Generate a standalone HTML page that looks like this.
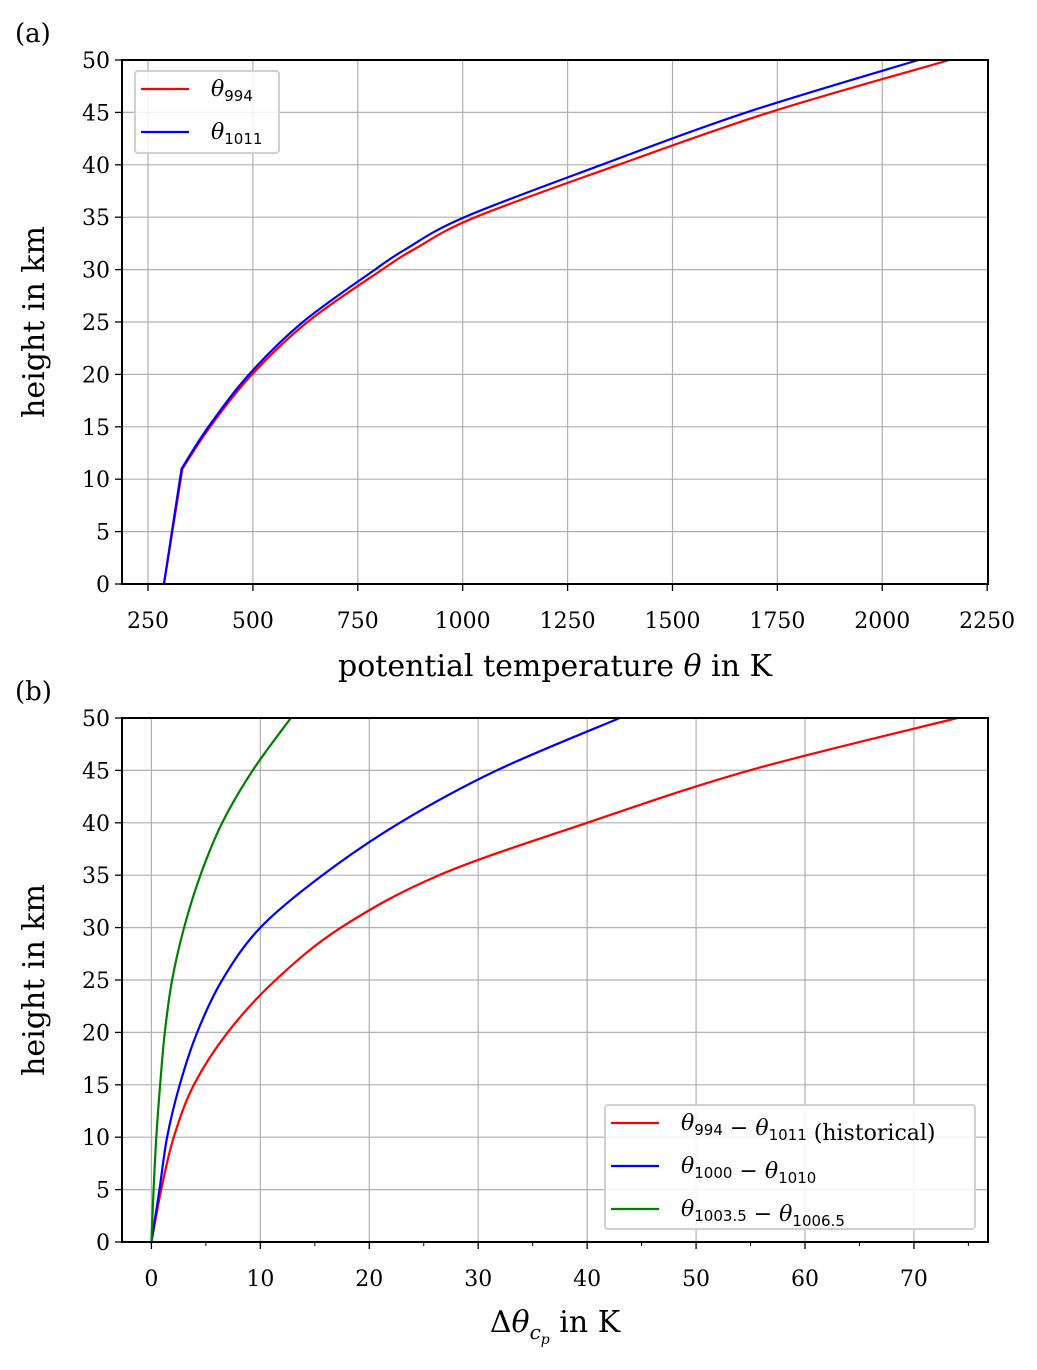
<!DOCTYPE html>
<html><head><meta charset="utf-8">
<style>
body{margin:0;background:#fff;}
svg text{font-family:"DejaVu Serif","Liberation Serif",serif;fill:#000;}
</style></head>
<body>
<svg id="fig" width="1037" height="1365" viewBox="0 0 1037 1365" xmlns="http://www.w3.org/2000/svg"></svg>
<script>
// ---- Panel (a) data ----
const heightsA = [0,5,11,15,20,25,30,32,35,40,45,50];
const theta994 = [288,308,332,398,498,630,808,887,1030,1371,1731,2160];
const theta1011 = [288,307,330,394,491,619,791,866,1004,1331,1676,2086];
const xTicksA = [250,500,750,1000,1250,1500,1750,2000,2250];
const yTicks = [0,5,10,15,20,25,30,35,40,45,50];
// ---- Panel (b) data ----
const heightsB = [0,5,10,15,20,25,30,35,40,45,50];
const diffRed = [0,0.9,2.05,3.9,7.0,11.4,17.4,26.4,40,54.9,74];
const diffBlue = [0,0.74,1.44,2.6,4.2,6.5,10,15.7,22.8,31.7,43];
const diffGreen = [0,0.2,0.45,0.8,1.23,1.9,3.0,4.5,6.5,9.3,12.8];
const xTicksB = [0,10,20,30,40,50,60,70];
const xMinorB = [5,15,25,35,45,55,65,75];

const svg = document.getElementById('fig');
const NS = 'http://www.w3.org/2000/svg';
function mk(tag, attrs, parent){const e=document.createElementNS(NS,tag);for(const k in attrs)e.setAttribute(k,attrs[k]);(parent||svg).appendChild(e);return e;}

function smoothPath(pts){
  let d='M'+pts[0][0].toFixed(2)+','+pts[0][1].toFixed(2);
  for(let i=0;i<pts.length-1;i++){
    const p0=pts[Math.max(i-1,0)],p1=pts[i],p2=pts[i+1],p3=pts[Math.min(i+2,pts.length-1)];
    const c1=[p1[0]+(p2[0]-p0[0])/6,p1[1]+(p2[1]-p0[1])/6];
    const c2=[p2[0]-(p3[0]-p1[0])/6,p2[1]-(p3[1]-p1[1])/6];
    d+=` C${c1[0].toFixed(2)},${c1[1].toFixed(2)} ${c2[0].toFixed(2)},${c2[1].toFixed(2)} ${p2[0].toFixed(2)},${p2[1].toFixed(2)}`;
  }
  return d;
}

function panel(cfg){
  const g = mk('g',{});
  
  
  const L=122,R=988,T=cfg.top,B=cfg.bottom;
  const sx=v=>L+(v-cfg.xmin)/(cfg.xmax-cfg.xmin)*(R-L);
  const sy=v=>B-(v-0)/50*(B-T);
  cfg.xticks.forEach(t=>{
    const x=sx(t);
    if(x>L+1&&x<R-1){const l=mk('line',{x1:x,x2:x,y1:T,y2:B,stroke:'#b0b0b0','stroke-width':1.2},g);
    }
    mk('line',{x1:x,x2:x,y1:B,y2:B+7,stroke:'#000','stroke-width':1.3},g);
    const tx=mk('text',{x:x,y:B+44,'text-anchor':'middle','font-size':22},g);tx.textContent=t;
    
  });
  (cfg.minor||[]).forEach(t=>{const x=sx(t);if(x<R)mk('line',{x1:x,x2:x,y1:B,y2:B+4,stroke:'#000','stroke-width':1},g);});
  yTicks.forEach(t=>{
    const y=sy(t);
    if(y>T+1&&y<B-1){const l=mk('line',{x1:L,x2:R,y1:y,y2:y,stroke:'#b0b0b0','stroke-width':1.2},g);
    }
    mk('line',{x1:L-7,x2:L,y1:y,y2:y,stroke:'#000','stroke-width':1.3},g);
    const tx=mk('text',{x:L-12,y:y+8,'text-anchor':'end','font-size':22},g);tx.textContent=t;
    
  });
  cfg.series.forEach(s=>{
    const pts=s.x.map((v,i)=>[sx(v),sy(s.y[i])]);
    const k=s.y.indexOf(cfg.kink);
    let d;
    if(k>0){d=smoothPath(pts.slice(0,k+1))+' '+smoothPath(pts.slice(k)).replace(/^M[^ C]+/,'');}
    else d=smoothPath(pts);
    const p=mk('path',{d:d,fill:'none',stroke:s.color,'stroke-width':2.2,'stroke-linejoin':'round'},g);
    
  });
  const fr=mk('rect',{x:L,y:T,width:R-L,height:B-T,fill:'none',stroke:'#000','stroke-width':2},g);
  
  const yl=mk('text',{x:0,y:0,'text-anchor':'middle','font-size':30,transform:`translate(44,${(T+B)/2}) rotate(-90)`},g);
  yl.textContent='height in km';
  const pl=mk('text',{x:15,y:T-18,'font-size':26},g);pl.textContent=cfg.label;
  
  return {g,sx,sy,B};
}

panel({name:'panel-a',top:60,bottom:584,xmin:188,xmax:2252,xticks:xTicksA,label:'(a)',kink:11,
  series:[{name:'theta-994-line',color:'#ff0000',x:theta994,y:heightsA},{name:'theta-1011-line',color:'#0000ff',x:theta1011,y:heightsA}]});
panel({name:'panel-b',top:718,bottom:1242,xmin:-2.7,xmax:76.8,xticks:xTicksB,minor:xMinorB,label:'(b)',kink:-1,
  series:[{name:'red-diff-line',color:'#ff0000',x:diffRed,y:heightsB},{name:'blue-diff-line',color:'#0000ff',x:diffBlue,y:heightsB},{name:'green-diff-line',color:'#008000',x:diffGreen,y:heightsB}]});

let t=mk('text',{x:555,y:676,'text-anchor':'middle','font-size':30});
t.innerHTML='potential temperature <tspan font-style="italic">θ</tspan> in K';

t=mk('text',{x:555,y:1332,'text-anchor':'middle','font-size':30});
t.innerHTML='Δ<tspan font-style="italic">θ</tspan><tspan font-style="italic" font-size="20" dy="7">c</tspan><tspan font-style="italic" font-size="14" dy="5">p</tspan><tspan dy="-12"> in K</tspan>';


function legend(name,x,y,w,h,items){
  const g=mk('g',{});
  
  mk('rect',{x,y,width:w,height:h,fill:'#fff','fill-opacity':0.85,stroke:'#d0d0d0','stroke-width':2,rx:3},g);
  items.forEach((it,i)=>{
    const yy=y+18+i*43;
    mk('line',{x1:x+6,x2:x+54,y1:yy,y2:yy,stroke:it.c,'stroke-width':2.2},g);
    const tx=mk('text',{x:x+76,y:yy+7,'font-size':22},g);tx.innerHTML=it.h;
    
  });
}
const sub=s=>`<tspan font-size="15" dy="5" font-family="DejaVu Sans, sans-serif">${s}</tspan><tspan dy="-5"></tspan>`;
const th='<tspan font-style="italic">θ</tspan>';
legend('legend-a',135,71,144,82,[{c:'#ff0000',h:th+sub('994')},{c:'#0000ff',h:th+sub('1011')}]);
legend('legend-b',605,1105,370,124,[
  {c:'#ff0000',h:th+sub('994')+' − '+th+sub('1011')+' (historical)'},
  {c:'#0000ff',h:th+sub('1000')+' − '+th+sub('1010')},
  {c:'#008000',h:th+sub('1003.5')+' − '+th+sub('1006.5')}]);
</script>
</body></html>
